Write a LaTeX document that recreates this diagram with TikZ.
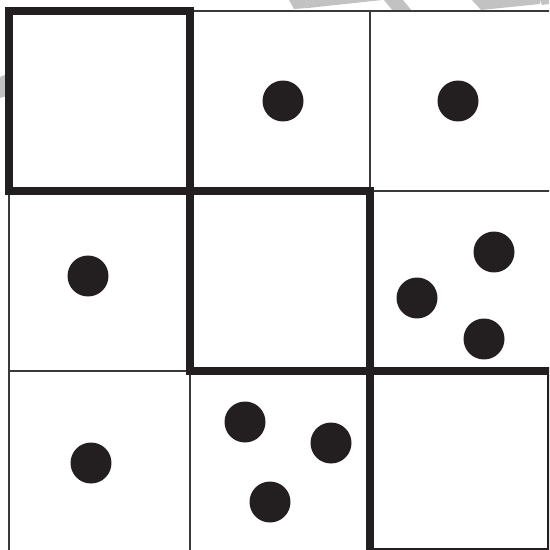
\documentclass[tikz,border=0pt]{standalone}
\usepackage{tikz}
\definecolor{Ink}{HTML}{231F20}
\definecolor{Rule}{HTML}{3A3A3A}
\definecolor{Wash}{HTML}{C2C2C2}

\begin{document}
\begin{tikzpicture}[x=0.02cm,y=-0.02cm,
    dot/.style={circle,fill=Ink,inner sep=0pt,minimum size=0.82cm},
    thin grid/.style={Rule,line width=0.75pt},
    thick box/.style={Ink,line width=4.4pt,line join=miter}]
    \useasboundingbox (0,0) rectangle (549,550);
    \clip (0,0) rectangle (549,550);
    % grey marks at the edge
    \fill[Wash] (289,0) -- (306,0) -- (308,8) -- (294,9) -- cycle;
    \fill[Wash] (306,0) -- (382,0) -- (308,8) -- cycle;
    \fill[Wash] (384,0) -- (403,0) -- (412,11) -- (393,11) -- cycle;
    \fill[Wash] (472,0) -- (540,0) -- (540,4) -- (481,10) -- cycle;
    \fill[Wash] (540,0) -- (549,0) -- (549,4) -- (542,5) -- cycle;
    \fill[Wash] (0,77) -- (7,74) -- (7,96) -- (0,98) -- cycle;
    % thin grid
    \draw[thin grid] (190,11) -- (552,11);
    \draw[thin grid] (370,11) -- (370,191);
    \draw[thin grid] (370,191) -- (552,191);
    \draw[thin grid] (9,191) -- (9,552);
    \draw[thin grid] (9,371) -- (190,371);
    \draw[thin grid] (190,371) -- (190,552);
    % thick diagonal cells
    \draw[thick box] (9,11) rectangle (190,191);
    \draw[thick box] (190,191) rectangle (370,371);
    \draw[thick box] (370,371) rectangle (551,552);
    % dots
    \node[dot] (ab) at (283,101) {};
    \node[dot] (ac) at (458,101) {};
    \node[dot] (ba) at (88,276) {};
    \node[dot] (bc1) at (494,252) {};
    \node[dot] (bc2) at (417,298) {};
    \node[dot] (bc3) at (484,339) {};
    \node[dot] (ca) at (91,463) {};
    \node[dot] (cb1) at (245,422) {};
    \node[dot] (cb2) at (331,443) {};
    \node[dot] (cb3) at (270,502) {};
\end{tikzpicture}
\end{document}
